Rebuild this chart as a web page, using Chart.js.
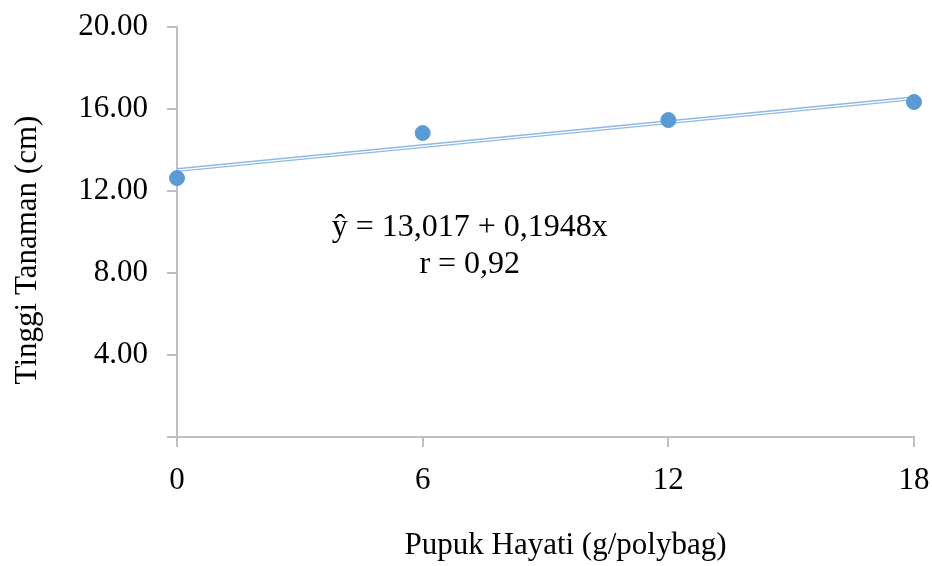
<!DOCTYPE html>
<html>
<head>
<meta charset="utf-8">
<script src="https://cdn.jsdelivr.net/npm/chart.js@4/dist/chart.umd.min.js"></script>
<style>
    html, body { margin: 0; padding: 0; background: #fff; }
    #wrap { width: 932px; height: 566px; }
</style>
</head>
<body>
<div id="wrap"><canvas id="chart"></canvas></div>
<script>
// Pupuk hayati doses (g/polybag) and observed plant height (cm)
const doses = [0, 6, 12, 18];
const heights = [12.63, 14.83, 15.46, 16.34];

// Regression line end points
const trendX = [0, 18];
const trendY = [13.02, 16.52];

const equationLines = ['ŷ = 13,017 + 0,1948x', 'r = 0,92'];
const xTitle = 'Pupuk Hayati (g/polybag)';
const yTitle = 'Tinggi Tanaman (cm)';

const serif = "'Liberation Serif', 'Times New Roman', serif";
const axisGray = '#bfbfbf';

const points = doses.map((d, i) => ({ x: d, y: heights[i] }));
const trend = trendX.map((d, i) => ({ x: d, y: trendY[i] }));

// Equation inside the plot and the two axis titles
const textPlugin = {
    id: 'texts',
    afterDraw(chart) {
        const ctx = chart.ctx;
        const area = chart.chartArea;
        ctx.save();
        ctx.fillStyle = '#000';
        ctx.textAlign = 'center';
        ctx.textBaseline = 'middle';

        // regression equation
        const ex = chart.scales.x.getPixelForValue(7.15);
        const ey = chart.scales.y.getPixelForValue(10.2);
        ctx.font = '32px ' + serif;
        ctx.fillText(equationLines[0], ex, ey);
        ctx.fillText(equationLines[1], ex, ey + 37);

        // x axis title
        ctx.font = '31px ' + serif;
        ctx.fillText(xTitle, (area.left + area.right) / 2 + 20, 546);

        // y axis title
        ctx.translate(28, (area.top + area.bottom) / 2 + 18);
        ctx.rotate(-Math.PI / 2);
        ctx.fillText(yTitle, 0, 0);
        ctx.restore();
    }
};

const config = {
    type: 'scatter',
    data: {
        datasets: [
            {
                data: points,
                backgroundColor: '#5b9bd5',
                borderColor: '#5b9bd5',
                pointRadius: 7.5,
                clip: false,
                order: 0
            },
            {
                type: 'line',
                data: trend,
                borderColor: '#ffffff',
                borderWidth: 1.2,
                pointRadius: 0,
                order: 1
            },
            {
                type: 'line',
                data: trend,
                borderColor: '#8fb9e3',
                borderWidth: 4,
                pointRadius: 0,
                order: 2
            }
        ]
    },
    options: {
        responsive: true,
        maintainAspectRatio: false,
        animation: false,
        layout: { padding: { top: 27, right: 18, left: 10, bottom: 8 } },
        plugins: {
            legend: { display: false },
            tooltip: { enabled: false }
        },
        scales: {
            x: {
                type: 'linear',
                min: 0,
                max: 18,
                afterBuildTicks: axis => {
                    axis.ticks = doses.map(v => ({ value: v }));
                },
                afterFit: scale => {
                    scale.height = 121;
                    scale.paddingLeft = 0;
                    scale.paddingRight = 0;
                },
                grid: {
                    drawOnChartArea: false,
                    drawTicks: true,
                    tickLength: 10,
                    color: axisGray,
                    lineWidth: 2
                },
                border: { color: axisGray, width: 2 },
                ticks: {
                    padding: 15,
                    color: '#000',
                    font: { family: serif, size: 31 }
                }
            },
            y: {
                min: 0,
                max: 20,
                afterFit: scale => {
                    scale.width = 167;
                    scale.paddingTop = 0;
                    scale.paddingBottom = 0;
                },
                grid: {
                    drawOnChartArea: false,
                    drawTicks: true,
                    tickLength: 10,
                    color: axisGray,
                    lineWidth: 2
                },
                border: { color: axisGray, width: 2 },
                ticks: {
                    stepSize: 4,
                    padding: 19,
                    color: '#000',
                    font: { family: serif, size: 31 },
                    callback: v => v === 0 ? '' : v.toFixed(2)
                }
            }
        }
    },
    plugins: [textPlugin]
};

new Chart(document.getElementById('chart').getContext('2d'), config);
</script>
</body>
</html>
